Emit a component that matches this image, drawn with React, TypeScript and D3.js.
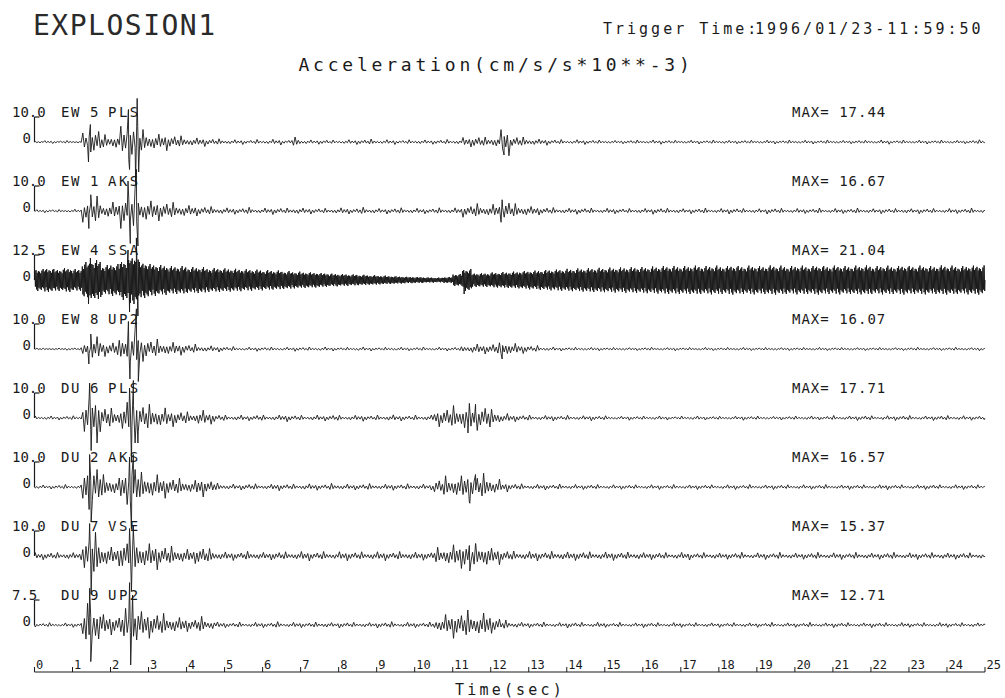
import * as d3 from 'd3';

// channel labels, scale-bar values and peak readouts, top to bottom
const channels = ['EW 5 PLS', 'EW 1 AKS', 'EW 4 SSA', 'EW 8 UP2', 'DU 6 PLS', 'DU 2 AKS', 'DU 7 VSE', 'DU 9 UP2'];
const scaleBars = [10, 10, 12.5, 10, 10, 10, 10, 7.5];
const maxValues = [17.44, 16.67, 21.04, 16.07, 17.71, 16.57, 15.37, 12.71];
const timeTicks = [0, 1, 2, 3, 4, 5, 6, 7, 8, 9, 10, 11, 12, 13, 14, 15, 16, 17, 18, 19, 20, 21, 22, 23, 24, 25];

// amplitude envelope, one value per 0.25 s (rows of 5 s)
const STEP = 0.25;
const envEW5 = [
  0.5, 0.6, 0.5, 0.6, 0.5, 4, 6, 3, 3.5, 7, 9, 5, 4, 3.5, 3, 2.5, 2, 1.8, 1.5, 1.3,
  1.1, 1, 0.9, 1, 1, 1.2, 0.9, 2, 1, 0.9, 1, 0.8, 0.9, 1, 1.1, 1.2, 0.9, 1, 0.8, 0.9,
  1, 0.9, 1, 1, 1.1, 2, 2.5, 2, 2.5, 5.5, 2.5, 2, 1.6, 1.3, 1.1, 1, 0.9, 1, 0.9, 0.8,
  0.8, 0.7, 0.8, 0.8, 0.7, 0.9, 0.8, 0.7, 0.8, 0.8, 0.7, 0.8, 0.9, 0.7, 0.8, 0.7, 0.8, 0.8, 0.7, 0.8,
  0.7, 0.8, 0.7, 0.8, 0.8, 0.7, 0.8, 0.7, 0.8, 0.9, 0.7, 0.8, 0.7, 0.8, 0.7, 0.8, 0.8, 0.7, 0.8, 0.9,
];
const envEW1 = [
  0.6, 0.7, 0.6, 0.7, 0.8, 4.5, 6, 3.5, 4, 7, 9, 5.5, 4.5, 4, 3.5, 3, 2.5, 2, 1.8, 1.6,
  1.4, 1.3, 1.5, 1.2, 1.3, 1.4, 1.2, 1.6, 1.3, 1.2, 1.1, 1.3, 1.4, 1.2, 1.5, 1.3, 1.1, 1.2, 1.3, 1.2,
  1.2, 1.1, 1.3, 1.2, 1.4, 2.5, 3, 2.5, 3, 4.5, 3, 2.5, 2, 1.6, 1.4, 1.3, 1.2, 1.3, 1.2, 1.1,
  1.2, 1.1, 1, 1.2, 1.1, 1.3, 1.1, 1.2, 1, 1.1, 1.2, 1, 1.1, 1.2, 1, 1.1, 1, 1.2, 1.1, 1,
  1.1, 1, 1.2, 1, 1.1, 1, 1.2, 1.1, 1, 1.1, 1, 1.2, 1, 1.1, 1, 1, 1.1, 1, 1.2, 1,
];
const envEW4 = [
  5.5, 6, 5.5, 6, 5.5, 9, 10, 7.5, 8, 10, 12, 9, 8, 7.5, 7, 7, 6.5, 6.5, 6, 6,
  5.8, 5.6, 5.4, 5.2, 5, 4.8, 4.5, 4.2, 4, 3.8, 3.5, 3.2, 3, 2.8, 2.6, 2.4, 2.2, 2, 1.8, 1.6,
  1.5, 1.3, 1.2, 1.5, 3, 5.5, 3.5, 3.5, 3.8, 4, 4.2, 4.5, 4.7, 5, 5.2, 5.4, 5.6, 5.8, 6, 6.1,
  6.2, 6.3, 6.4, 6.5, 6.6, 6.8, 7, 7, 7, 7.2, 7, 7.2, 7, 7.3, 7, 7.2, 7, 7.3, 7.2, 7,
  7.2, 7, 7.3, 7, 7.2, 7, 7.2, 7.3, 7, 7.2, 7, 7.3, 7, 7.2, 7, 7.3, 7.2, 7, 7.2, 7.3,
];
const envEW8 = [
  0.4, 0.5, 0.4, 0.5, 0.5, 4, 5.5, 3, 3.5, 6.5, 8.5, 5, 4, 3.5, 3, 2.5, 2, 1.7, 1.4, 1.2,
  1, 0.9, 0.8, 0.9, 0.8, 0.9, 0.8, 0.9, 0.8, 0.8, 0.9, 0.8, 0.7, 0.8, 0.9, 0.8, 0.7, 0.8, 0.8, 0.7,
  0.8, 0.7, 0.8, 0.8, 0.9, 1.8, 2.2, 2, 2.5, 4, 2.5, 1.8, 1.4, 1.1, 0.9, 0.8, 0.7, 0.8, 0.7, 0.7,
  0.6, 0.7, 0.6, 0.6, 0.7, 0.6, 0.6, 0.7, 0.6, 0.6, 0.7, 0.6, 0.6, 0.6, 0.7, 0.6, 0.6, 0.7, 0.6, 0.6,
  0.6, 0.6, 0.7, 0.6, 0.6, 0.7, 0.6, 0.6, 0.6, 0.7, 0.6, 0.6, 0.7, 0.6, 0.6, 0.6, 0.7, 0.6, 0.6, 0.7,
];
const envDU6 = [
  0.8, 0.9, 0.8, 0.9, 0.9, 9, 10, 5, 4, 7, 10, 6, 5.5, 4.5, 3.5, 3, 2.5, 3.5, 2.5, 1.5,
  1.2, 1.3, 1.1, 1.4, 1.2, 1.3, 1.5, 1.2, 1.1, 1.3, 1.2, 1.4, 1.1, 1.2, 1.3, 1.1, 1.2, 1.4, 1.2, 1.1,
  1.2, 1.3, 3.5, 4.5, 5, 6.5, 5, 5.5, 3.5, 2, 1.5, 1.3, 1.2, 1.1, 1.2, 1, 1.1, 1, 1.1, 1,
  0.9, 0.8, 0.9, 0.8, 0.8, 0.9, 0.8, 0.7, 0.8, 0.9, 0.8, 0.8, 0.7, 0.8, 0.9, 0.8, 0.8, 0.7, 0.8, 0.8,
  0.8, 0.9, 0.8, 0.9, 1, 0.9, 1, 1.1, 0.9, 1, 1, 1.1, 1, 0.9, 1, 1.1, 1, 1, 0.9, 1,
];
const envDU2 = [
  0.9, 0.8, 0.9, 1, 0.9, 9, 10, 5, 4, 7, 10, 6, 5.5, 4.5, 4, 3.5, 3, 4, 3, 1.6,
  1.3, 1.2, 1.4, 1.3, 1.2, 1.5, 1.3, 1.2, 1.4, 1.3, 1.2, 1.5, 1.3, 1.2, 1.3, 1.4, 1.2, 1.3, 1.2, 1.3,
  1.3, 1.2, 3.5, 4.5, 5, 6, 5, 5.5, 3.5, 2, 1.5, 1.3, 1.2, 1.2, 1.1, 1.2, 1.1, 1, 1.1, 1,
  1, 0.9, 1, 0.9, 1, 1, 0.9, 1, 0.9, 1, 1, 0.9, 1, 1, 0.9, 1, 0.9, 1, 1, 0.9,
  1, 0.9, 1, 1, 0.9, 1, 1, 0.9, 1, 1.1, 1, 0.9, 1, 1, 1.1, 0.9, 1, 1, 1, 0.9,
];
const envDU7 = [
  1.5, 1.6, 1.4, 1.7, 1.5, 8.5, 9.5, 5, 4, 7, 9.5, 6, 5.5, 4.5, 4, 3.5, 3, 4, 3, 2,
  1.8, 1.7, 1.9, 1.8, 1.6, 1.9, 1.7, 1.8, 2, 1.7, 1.8, 1.6, 1.9, 1.8, 1.7, 1.8, 1.9, 1.7, 1.8, 1.9,
  1.7, 1.8, 3.5, 4.5, 5, 6, 5, 5.5, 3.5, 2.5, 2, 1.9, 2, 1.8, 1.9, 2, 1.8, 1.9, 1.7, 1.8,
  1.8, 1.7, 1.6, 1.8, 1.5, 1.6, 1.4, 1.5, 1.6, 1.3, 1.4, 1.5, 1.3, 1.4, 1.5, 1.3, 1.4, 1.3, 1.5, 1.4,
  1.3, 1.4, 1.5, 1.3, 1.4, 1.3, 1.5, 1.4, 1.3, 1.4, 1.5, 1.3, 1.4, 1.3, 1.4, 1.5, 1.3, 1.4, 1.3, 1.4,
];
const envDU9 = [
  0.6, 0.7, 0.6, 0.7, 0.7, 6.5, 7, 3.5, 3, 5, 7.5, 4.5, 4, 3.5, 3, 2.5, 2, 2.6, 1.8, 1,
  0.8, 0.9, 0.8, 0.9, 0.8, 1, 0.8, 0.9, 0.8, 0.9, 1, 0.8, 0.9, 0.8, 0.9, 0.8, 0.9, 1, 0.8, 0.9,
  0.8, 0.9, 2.5, 3.5, 4, 4.5, 4, 4, 2.5, 1.5, 1.1, 0.9, 0.8, 0.9, 0.8, 0.8, 0.9, 0.8, 0.8, 0.9,
  0.7, 0.8, 0.7, 0.7, 0.8, 0.7, 0.7, 0.8, 0.7, 0.7, 0.8, 0.7, 0.7, 0.7, 0.8, 0.7, 0.7, 0.8, 0.7, 0.7,
  0.7, 0.8, 0.7, 0.7, 0.8, 0.7, 0.7, 0.7, 0.8, 0.7, 0.7, 0.8, 0.7, 0.7, 0.7, 0.8, 0.7, 0.7, 0.8, 0.7,
];
const envelopes = [envEW5, envEW1, envEW4, envEW8, envDU6, envDU2, envDU7, envDU9];

// distinct large swings [time s, signed amplitude]
const peaks: [number, number][][] = [
  [[1.42, -8], [1.47, 7], [2.47, 13], [2.5, -11], [2.66, -16], [2.7, 17.44], [2.74, -12], [12.35, -5.2]],
  [[1.43, -7], [1.48, 6.5], [2.46, 12], [2.52, -13], [2.68, 16.67], [2.72, -14], [12.3, 4.5]],
  [[1.42, -12], [1.47, 11], [2.46, 15], [2.5, -16], [2.68, 21.04], [2.72, -18], [11.3, -7]],
  [[1.43, -6], [1.48, 6], [2.47, 11], [2.51, -12], [2.68, 16.07], [2.73, -13], [12.3, -4]],
  [[1.45, 14], [1.49, -13], [2.5, 12], [2.55, -17.71], [2.6, 15], [2.72, -10], [11.4, -6], [11.6, 5.5]],
  [[1.45, 13], [1.49, -14], [2.5, 12], [2.55, -16.57], [2.6, 13], [11.45, -6.5], [11.6, 5]],
  [[1.45, 13], [1.49, -15.37], [2.5, 11], [2.55, -14], [2.6, 12], [11.45, -6], [11.6, 5]],
  [[1.45, 11], [1.48, -11], [2.5, 12.71], [2.53, -12], [2.58, 9]],
];

// wiggle shapes used to draw each envelope step (sparse ripple, dense noise band)
const WIGGLE = [0.3, -0.45, 0.25, -0.6, 0.35, -0.3, 0.9, -0.5, 0.4, -0.35, 0.5, -1.0,
  0.3, -0.55, 0.45, -0.25, 0.7, -0.4, 0.3, -0.65, 1.0, -0.45, 0.35, -0.3];
const DENSE = [0.75, -0.8, 0.6, -0.9, 0.85, -0.65, 1.0, -0.75, 0.7, -0.95, 0.8, -0.6,
  0.9, -0.85, 0.65, -1.0, 0.8, -0.7];

const W = 1005;
const H = 698;
const FONT = "'DejaVu Sans Mono', monospace";
const INK = '#1a1a1a';

const x = d3.scaleLinear().domain([0, 25]).range([34.5, 985]);
const baseY = (i: number) => 142 + 69 * i;
const BAR = 25;

function tracePoints(env: number[], pk: [number, number][], shape: number[], n: number, off: number) {
  const pts: [number, number][] = [[0, 0]];
  env.forEach((a, i) => {
    for (let k = 0; k < n; k++) {
      const t = (i + (k + 0.5) / n) * STEP;
      pts.push([t, a * shape[(i * n + k + off) % shape.length]]);
    }
  });
  pk.forEach((p) => pts.push(p));
  pts.push([25, 0]);
  return pts.sort((a, b) => a[0] - b[0]);
}

export default function App() {
  const axisY = 672;
  return (
    <svg width={W} height={H} style={{ position: 'absolute', left: 0, top: 0, background: '#fff' }}>
      <text x={33} y={35} fontFamily={FONT} fontSize={28} letterSpacing={1.5} fill="#2a2a2a">EXPLOSION1</text>
      <text x={603} y={34} fontFamily={FONT} fontSize={15} letterSpacing={3} fill={INK}>Trigger Time:</text>
      <text x={755} y={34} fontFamily={FONT} fontSize={15} letterSpacing={3} fill={INK}>1996/01/23-11:59:50</text>
      <text x={496} y={71} fontFamily={FONT} fontSize={18} letterSpacing={3.8} textAnchor="middle" fill={INK}>Acceleration(cm/s/s*10**-3)</text>

      {channels.map((ch, i) => {
        const b = baseY(i);
        const s = scaleBars[i];
        const y = d3.scaleLinear().domain([-s, s]).range([b + BAR, b - BAR]);
        const line = d3.line<[number, number]>().x((d) => x(d[0])).y((d) => y(d[1]));
        const dense = i === 2;
        const pts = tracePoints(envelopes[i], peaks[i], dense ? DENSE : WIGGLE, dense ? 16 : 6, i * 5);
        const [comp, num, sta] = ch.split(' ');
        return (
          <g key={ch}>
            <path d={line(pts) ?? ''} fill="none" stroke={INK} strokeWidth={dense ? 1 : 0.9} strokeLinejoin="round" />
            <line x1={x(0)} x2={x(0)} y1={y(s)} y2={y(0)} stroke={INK} strokeWidth={1.2} />
            <line x1={x(0)} x2={x(0) + 5} y1={y(s)} y2={y(s)} stroke={INK} strokeWidth={1.2} />
            <text x={12} y={b - 25} fontFamily={FONT} fontSize={14} fill={INK}>{s.toFixed(1)}</text>
            <text x={31} y={b + 1} fontFamily={FONT} fontSize={14} textAnchor="end" fill={INK}>0</text>
            <text x={61} y={b - 25} fontFamily={FONT} fontSize={14} letterSpacing={1.5} fill={INK}>{comp}</text>
            <text x={90} y={b - 25} fontFamily={FONT} fontSize={14} fill={INK}>{num}</text>
            <text x={108} y={b - 25} fontFamily={FONT} fontSize={14} letterSpacing={2.5} fill={INK}>{sta}</text>
            <text x={792} y={b - 25} fontFamily={FONT} fontSize={14} letterSpacing={1} fill={INK}>{`MAX= ${maxValues[i].toFixed(2)}`}</text>
          </g>
        );
      })}

      <line x1={x(0)} x2={x(25)} y1={axisY} y2={axisY} stroke={INK} strokeWidth={1.2} />
      {timeTicks.map((t) => (
        <g key={t}>
          <line x1={x(t)} x2={x(t)} y1={axisY} y2={axisY - 5} stroke={INK} strokeWidth={1} />
          <text x={x(t) + 1.5} y={669} fontFamily={FONT} fontSize={12} fill={INK}>{t}</text>
        </g>
      ))}
      <text x={510} y={695} fontFamily={FONT} fontSize={15} letterSpacing={3.2} textAnchor="middle" fill={INK}>Time(sec)</text>
    </svg>
  );
}
